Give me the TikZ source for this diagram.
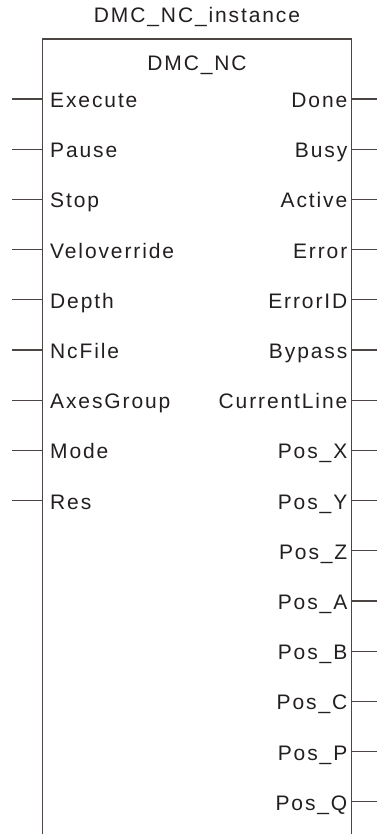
\documentclass[tikz,border=0pt]{standalone}
\usepackage{fontspec}
\setmainfont{Liberation Sans}
\newfontfamily\pinfont[LetterSpace=9]{Liberation Sans}
\usepackage{tikz}
\usetikzlibrary{positioning}

\definecolor{fbline}{RGB}{77,68,68}
\definecolor{fbtext}{RGB}{35,31,32}

\tikzset{
    fbbox/.style={rectangle, draw=fbline, line width=1.3pt, outer sep=0pt, minimum width=309pt, minimum height=821pt},
    pinlabel/.style={font=\fontsize{21}{25}\pinfont, text=fbtext, inner sep=0pt, text height=15pt, text depth=0pt},
    pinwire/.style={draw=fbline, line width=1.3pt}
}

\begin{document}
\begin{tikzpicture}[x=1pt, y=-1pt]

            \useasboundingbox (0,0) rectangle (377,834);
            \clip (0,0) rectangle (377,834);

            % Function block (open at the bottom)
            \node[fbbox] (fb) at (197,449.5) {};
            \node[pinlabel, above=16pt of fb.north] (instance) {DMC\_NC\_instance};
            \node[pinlabel, below=16.5pt of fb.north] (fbname) {DMC\_NC};

            % Wire ends
            \coordinate (lwire) at (12,0);
            \coordinate (rwire) at (377,0);

            % Input pins
            \coordinate (execute-pin) at (42.5,99);
            \coordinate (pause-pin) at (42.5,149.2);
            \coordinate (stop-pin) at (42.5,199.4);
            \coordinate (velo-pin) at (42.5,249.6);
            \coordinate (depth-pin) at (42.5,299.8);
            \coordinate (ncfile-pin) at (42.5,350);
            \coordinate (axes-pin) at (42.5,400.2);
            \coordinate (mode-pin) at (42.5,450.4);
            \coordinate (res-pin) at (42.5,500.6);

            \node[pinlabel, right=7.5pt of execute-pin, yshift=-1pt] (execute) {Execute};
            \node[pinlabel, right=7.5pt of pause-pin, yshift=-1pt] (pause) {Pause};
            \node[pinlabel, right=7.5pt of stop-pin, yshift=-1pt] (stop) {Stop};
            \node[pinlabel, right=7.5pt of velo-pin, yshift=-1pt] (velo) {Veloverride};
            \node[pinlabel, right=7.5pt of depth-pin, yshift=-1pt] (depth) {Depth};
            \node[pinlabel, right=7.5pt of ncfile-pin, yshift=-1pt] (ncfile) {NcFile};
            \node[pinlabel, right=7.5pt of axes-pin, yshift=-1pt] (axes) {AxesGroup};
            \node[pinlabel, right=7.5pt of mode-pin, yshift=-1pt] (mode) {Mode};
            \node[pinlabel, right=7.5pt of res-pin, yshift=-1pt] (res) {Res};

            % Output pins
            \coordinate (done-pin) at (351.5,99);
            \coordinate (busy-pin) at (351.5,149.2);
            \coordinate (active-pin) at (351.5,199.4);
            \coordinate (error-pin) at (351.5,249.6);
            \coordinate (errorid-pin) at (351.5,299.8);
            \coordinate (bypass-pin) at (351.5,350);
            \coordinate (curline-pin) at (351.5,400.2);
            \coordinate (posx-pin) at (351.5,450.4);
            \coordinate (posy-pin) at (351.5,500.6);
            \coordinate (posz-pin) at (351.5,550.8);
            \coordinate (posa-pin) at (351.5,601);
            \coordinate (posb-pin) at (351.5,651.2);
            \coordinate (posc-pin) at (351.5,701.4);
            \coordinate (posp-pin) at (351.5,751.6);
            \coordinate (posq-pin) at (351.5,801.8);

            \node[pinlabel, left=4pt of done-pin, yshift=-1pt] (done) {Done};
            \node[pinlabel, left=4pt of busy-pin, yshift=-1pt] (busy) {Busy};
            \node[pinlabel, left=4pt of active-pin, yshift=-1pt] (active) {Active};
            \node[pinlabel, left=4pt of error-pin, yshift=-1pt] (error) {Error};
            \node[pinlabel, left=4pt of errorid-pin, yshift=-1pt] (errorid) {ErrorID};
            \node[pinlabel, left=4pt of bypass-pin, yshift=-1pt] (bypass) {Bypass};
            \node[pinlabel, left=4pt of curline-pin, yshift=-1pt] (curline) {CurrentLine};
            \node[pinlabel, left=4pt of posx-pin, yshift=-1pt] (posx) {Pos\_X};
            \node[pinlabel, left=4pt of posy-pin, yshift=-1pt] (posy) {Pos\_Y};
            \node[pinlabel, left=4pt of posz-pin, yshift=-1pt] (posz) {Pos\_Z};
            \node[pinlabel, left=4pt of posa-pin, yshift=-1pt] (posa) {Pos\_A};
            \node[pinlabel, left=4pt of posb-pin, yshift=-1pt] (posb) {Pos\_B};
            \node[pinlabel, left=4pt of posc-pin, yshift=-1pt] (posc) {Pos\_C};
            \node[pinlabel, left=4pt of posp-pin, yshift=-1pt] (posp) {Pos\_P};
            \node[pinlabel, left=4pt of posq-pin, yshift=-1pt] (posq) {Pos\_Q};

            % Input wires
            \draw[pinwire] (execute-pin) -- (execute-pin -| lwire);
            \draw[pinwire] (pause-pin) -- (pause-pin -| lwire);
            \draw[pinwire] (stop-pin) -- (stop-pin -| lwire);
            \draw[pinwire] (velo-pin) -- (velo-pin -| lwire);
            \draw[pinwire] (depth-pin) -- (depth-pin -| lwire);
            \draw[pinwire] (ncfile-pin) -- (ncfile-pin -| lwire);
            \draw[pinwire] (axes-pin) -- (axes-pin -| lwire);
            \draw[pinwire] (mode-pin) -- (mode-pin -| lwire);
            \draw[pinwire] (res-pin) -- (res-pin -| lwire);

            % Output wires
            \draw[pinwire] (done-pin) -- (done-pin -| rwire);
            \draw[pinwire] (busy-pin) -- (busy-pin -| rwire);
            \draw[pinwire] (active-pin) -- (active-pin -| rwire);
            \draw[pinwire] (error-pin) -- (error-pin -| rwire);
            \draw[pinwire] (errorid-pin) -- (errorid-pin -| rwire);
            \draw[pinwire] (bypass-pin) -- (bypass-pin -| rwire);
            \draw[pinwire] (curline-pin) -- (curline-pin -| rwire);
            \draw[pinwire] (posx-pin) -- (posx-pin -| rwire);
            \draw[pinwire] (posy-pin) -- (posy-pin -| rwire);
            \draw[pinwire] (posz-pin) -- (posz-pin -| rwire);
            \draw[pinwire] (posa-pin) -- (posa-pin -| rwire);
            \draw[pinwire] (posb-pin) -- (posb-pin -| rwire);
            \draw[pinwire] (posc-pin) -- (posc-pin -| rwire);
            \draw[pinwire] (posp-pin) -- (posp-pin -| rwire);
            \draw[pinwire] (posq-pin) -- (posq-pin -| rwire);

        \end{tikzpicture}
\end{document}
